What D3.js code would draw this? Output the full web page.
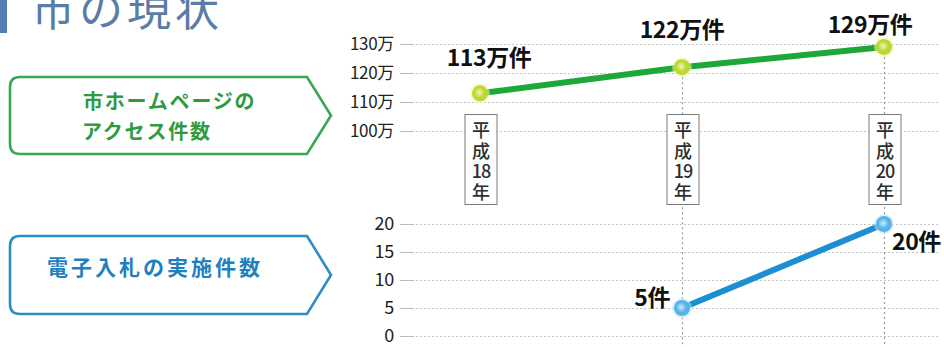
<!DOCTYPE html>
<html>
<head>
<meta charset="utf-8">
<script src="https://cdn.jsdelivr.net/npm/d3@7"></script>
<style>
  html, body { margin: 0; padding: 0; background: #fff; }
  svg { display: block; }
  text { font-family: "Noto Sans CJK JP", "Noto Sans", sans-serif; }
</style>
</head>
<body>
<svg id="chart" width="944" height="347"></svg>
<script>
// Fiscal years (Heisei era)
const years = ["平成18年", "平成19年", "平成20年"];
// City homepage access count, in units of 10,000 (万件)
const accessCounts = [113, 122, 129];
// Electronic bidding cases (none in H18)
const biddingCounts = [null, 5, 20];
// Axis tick values
const accessTicks = [100, 110, 120, 130];
const biddingTicks = [0, 5, 10, 15, 20];

const svg = d3.select("#chart");
const defs = svg.append("defs");

function markerGradient(id, inner, outer) {
  const g = defs.append("radialGradient").attr("id", id)
    .attr("cx", "45%").attr("cy", "45%").attr("r", "60%");
  g.append("stop").attr("offset", "0%").attr("stop-color", inner);
  g.append("stop").attr("offset", "55%").attr("stop-color", outer);
  g.append("stop").attr("offset", "100%").attr("stop-color", outer);
}
markerGradient("gGreen", "#f2f7b0", "#bcd634");
markerGradient("gBlue", "#c9ecfb", "#55b3e8");

// ---- Heading ----
svg.append("rect").attr("x", 0).attr("y", 0).attr("width", 7).attr("height", 33).attr("fill", "#4f7db4");
svg.append("text").attr("x", 31).attr("y", 26)
  .attr("font-size", 44).attr("font-weight", 400).attr("letter-spacing", 4)
  .attr("fill", "#5a7ca6").text("市の現状");

// ---- Callout boxes ----
function callout(y0, y1, color) {
  const x0 = 10, xr = 307, tip = 331, r = 10, ym = (y0 + y1) / 2;
  svg.append("path")
    .attr("d", `M${x0 + r},${y0} H${xr} L${tip},${ym} L${xr},${y1} H${x0 + r} Q${x0},${y1} ${x0},${y1 - r} V${y0 + r} Q${x0},${y0} ${x0 + r},${y0} Z`)
    .attr("fill", "#fff").attr("stroke", color).attr("stroke-width", 2.6);
}
callout(77, 154, "#3aa656");
callout(236, 314, "#2f8dc6");

const greenText = svg.append("text").attr("font-size", 20).attr("font-weight", 700)
  .attr("fill", "#2f9a3e").attr("letter-spacing", 1.8);
greenText.append("tspan").attr("x", 83).attr("y", 109).text("市ホームページの");
greenText.append("tspan").attr("x", 82).attr("y", 139).text("アクセス件数");

svg.append("text").attr("x", 47).attr("y", 275)
  .attr("font-size", 21).attr("font-weight", 700).attr("letter-spacing", 3)
  .attr("fill", "#1f7fbf").text("電子入札の実施件数");

// ---- Scales ----
const x = d3.scalePoint().domain(years).range([480, 884]);
const yTop = d3.scaleLinear().domain([100, 130]).range([131, 44]);
const yBot = d3.scaleLinear().domain([0, 20]).range([336, 224]);
const gridX0 = 400, gridX1 = 940;

function grid(scale, ticks, fontSize, suffix) {
  const g = svg.append("g");
  ticks.forEach(t => {
    const yy = Math.round(scale(t)) + 0.5;
    g.append("line").attr("x1", gridX0).attr("x2", gridX0 + 14).attr("y1", yy).attr("y2", yy)
      .attr("stroke", "#bcbcbc").attr("stroke-width", 1);
    g.append("line").attr("x1", gridX0 + 16).attr("x2", gridX1).attr("y1", yy).attr("y2", yy)
      .attr("stroke", "#c4c4c4").attr("stroke-width", 1).attr("stroke-dasharray", "2,2");
  });
  const axis = d3.axisLeft(scale).tickValues(ticks).tickSize(0).tickPadding(0)
    .tickFormat(d => d + suffix);
  const ag = svg.append("g").attr("transform", `translate(394,0)`).call(axis);
  ag.select(".domain").remove();
  ag.selectAll("text").attr("font-size", fontSize).attr("fill", "#222")
    .attr("font-family", "\"Noto Sans CJK JP\", sans-serif").attr("letter-spacing", -0.3);
}
grid(yTop, accessTicks, 17, "万");
grid(yBot, biddingTicks, 18, "");

// ---- Vertical guides for years with bidding data ----
years.forEach((yr, i) => {
  if (biddingCounts[i] == null) return;
  svg.append("line").attr("x1", x(yr) + 0.5).attr("x2", x(yr) + 0.5)
    .attr("y1", yTop(accessCounts[i])).attr("y2", 347)
    .attr("stroke", "#999").attr("stroke-width", 1.2).attr("stroke-dasharray", "2,3");
});

// ---- Year label boxes (vertical writing, digits kept upright together) ----
years.forEach(yr => {
  const cx = x(yr) + 1;
  const g = svg.append("g");
  g.append("rect").attr("x", cx - 16).attr("y", 114.5).attr("width", 32).attr("height", 90)
    .attr("fill", "#fff").attr("stroke", "#7a7a7a").attr("stroke-width", 1);
  const parts = yr.match(/\d+|./g);
  const t = g.append("text").attr("text-anchor", "middle").attr("font-size", 18)
    .attr("font-weight", 500).attr("fill", "#2e2e2e");
  parts.forEach((p, k) => {
    t.append("tspan").attr("x", cx).attr("y", 137 + k * 20.5)
      .attr("letter-spacing", p.length > 1 ? -1 : 0)
      .text(p);
  });
});

// ---- Access line ----
const accessPts = years.map((yr, i) => [x(yr), yTop(accessCounts[i])]);
svg.append("path").attr("d", d3.line()(accessPts))
  .attr("fill", "none").attr("stroke", "#1fa83a").attr("stroke-width", 6).attr("stroke-linecap", "round");

// ---- Bidding line ----
const bidPts = years.map((yr, i) => biddingCounts[i] == null ? null : [x(yr), yBot(biddingCounts[i])]).filter(Boolean);
svg.append("path").attr("d", d3.line()(bidPts))
  .attr("fill", "none").attr("stroke", "#1b8fd2").attr("stroke-width", 6).attr("stroke-linecap", "round");

// ---- Markers ----
accessPts.forEach(p => {
  svg.append("circle").attr("cx", p[0]).attr("cy", p[1]).attr("r", 10).attr("fill", "#eef7a0").attr("opacity", 0.55);
  svg.append("circle").attr("cx", p[0]).attr("cy", p[1]).attr("r", 8).attr("fill", "url(#gGreen)");
});
bidPts.forEach(p => {
  svg.append("circle").attr("cx", p[0]).attr("cy", p[1]).attr("r", 10).attr("fill", "#bfe5f7").attr("opacity", 0.55);
  svg.append("circle").attr("cx", p[0]).attr("cy", p[1]).attr("r", 8).attr("fill", "url(#gBlue)");
});

// ---- Value labels ----
const accessLabelOffset = [[9, -27, "middle"], [0, -29, "middle"], [-14, -14, "middle"]];
years.forEach((yr, i) => {
  const o = accessLabelOffset[i];
  svg.append("text").attr("x", x(yr) + o[0]).attr("y", yTop(accessCounts[i]) + o[1])
    .attr("text-anchor", o[2]).attr("font-size", 23).attr("font-weight", 700)
    .attr("letter-spacing", -0.4).attr("fill", "#111")
    .text(accessCounts[i] + "万件");
});
const bidLabelOffset = [null, [-12, -2, "end"], [8, 26, "start"]];
years.forEach((yr, i) => {
  if (biddingCounts[i] == null) return;
  const o = bidLabelOffset[i];
  svg.append("text").attr("x", x(yr) + o[0]).attr("y", yBot(biddingCounts[i]) + o[1])
    .attr("text-anchor", o[2]).attr("font-size", 23).attr("font-weight", 700)
    .attr("letter-spacing", -0.4).attr("fill", "#111")
    .text(biddingCounts[i] + "件");
});
</script>
</body>
</html>
